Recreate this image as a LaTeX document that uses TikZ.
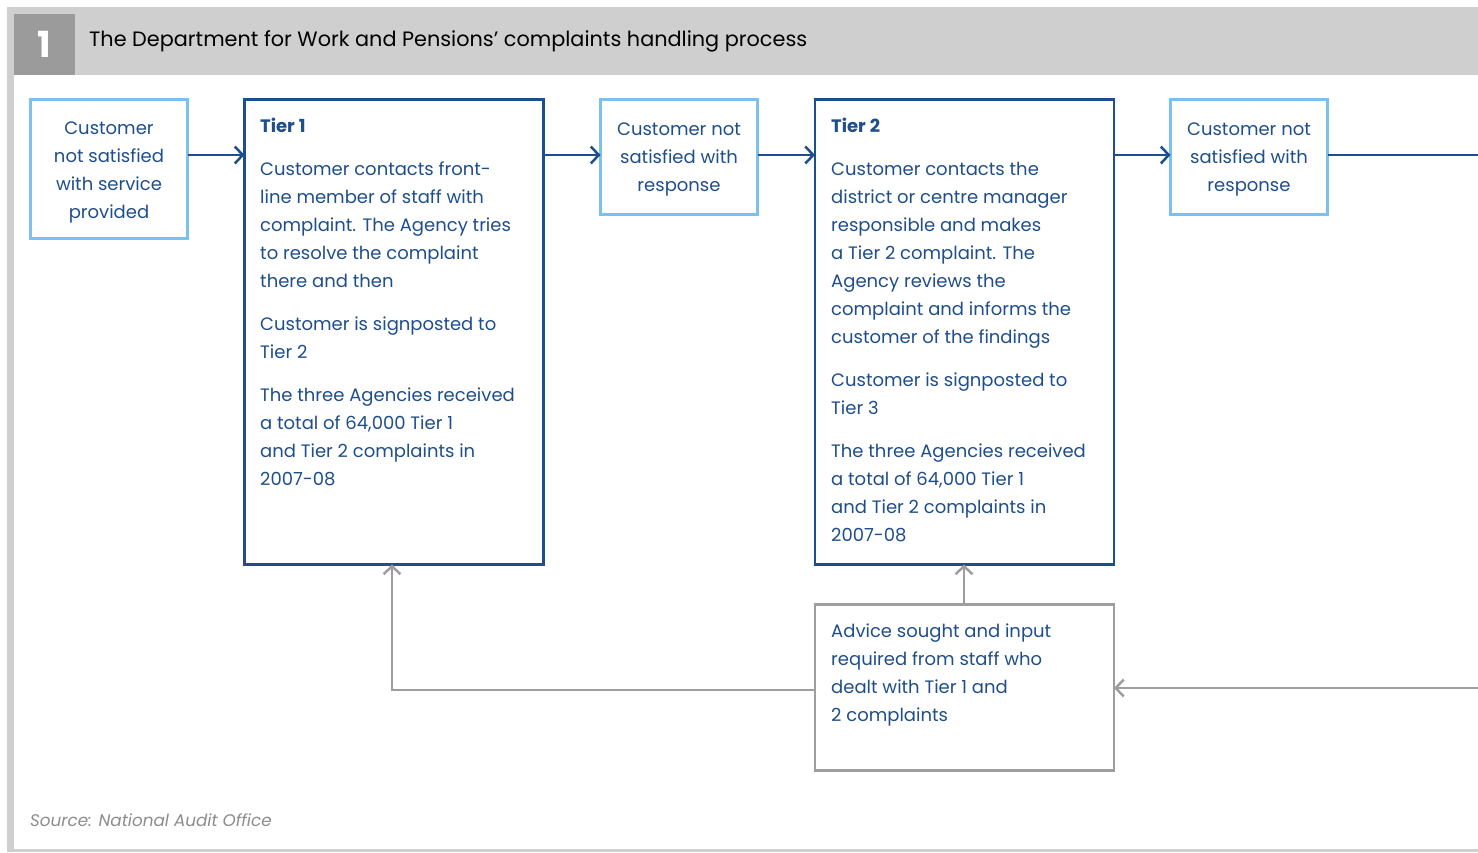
\documentclass[tikz,border=0pt]{standalone}
\usepackage{fontspec}
\setmainfont{Poppins}
\usetikzlibrary{arrows.meta,positioning}
\definecolor{dblue}{HTML}{1F4E8C}
\definecolor{lblue}{HTML}{7CC0EE}
\definecolor{garr}{HTML}{9E9E9E}
\definecolor{hband}{HTML}{CFCFCF}
\definecolor{nbox}{HTML}{9B9B9B}
\definecolor{srcgray}{HTML}{8C8C8C}
\tikzset{
  lightbox/.style={draw=lblue, line width=2.5pt, fill=white, rectangle, inner sep=0pt, outer sep=0pt},
  tierbox/.style={draw=dblue, line width=2.5pt, fill=white, rectangle, inner sep=0pt, outer sep=0pt},
  graybox/.style={draw=garr, line width=2.5pt, fill=white, rectangle, inner sep=0pt, outer sep=0pt},
  ctext/.style={text=dblue, font=\fontsize{18}{28}\selectfont, align=center, inner sep=0pt},
  ltext/.style={text=dblue, font=\fontsize{18}{28}\selectfont, align=left, inner sep=0pt, anchor=north west},
  barrow/.style={draw=dblue, line width=2.5pt, -{Straight Barb[length=8pt,width=17pt]}},
  bline/.style={draw=dblue, line width=2.5pt},
  garrow/.style={draw=garr, line width=2.5pt, -{Straight Barb[length=8pt,width=17pt]}},
}
\begin{document}
\begin{tikzpicture}[x=1pt,y=-1pt]
\useasboundingbox (0,0) rectangle (1478,852);
% frame
\fill[hband] (7,7) rectangle (1478,75);
\fill[hband] (7,75) rectangle (14,852);
\fill[hband] (14,849) rectangle (1478,852);
\node[fill=nbox, minimum width=61pt, minimum height=61pt, inner sep=0pt, anchor=north west] (num) at (14,14) {};
\node[text=white, font=\fontsize{36}{36}\selectfont\bfseries] (numtxt) at (num.center) {1};
\node[anchor=west, font=\fontsize{20.8}{24}\selectfont, text=black, inner sep=0pt] (title) at (89,41) {The Department for Work and Pensions’ complaints handling process};

% boxes
\node[lightbox, minimum width=157pt, minimum height=139pt, anchor=north west] (a) at (30.5,99.5) {};
\node[ctext] (atxt) at ([yshift=-3pt]a.center) {Customer\\not satisfied\\with service\\provided};

\node[tierbox, minimum width=299pt, minimum height=465pt, anchor=north west] (t1) at (244.5,99.5) {};
\node[ltext] (t1txt) at (260,118) {\textbf{Tier 1}\\[15pt]
Customer contacts front-\\line member of staff with\\complaint. The Agency tries\\to resolve the complaint\\there and then\\[15pt]
Customer is signposted to\\Tier 2\\[15pt]
The three Agencies received\\a total of 64,000 Tier 1\\and Tier 2 complaints in\\2007-08};

\node[lightbox, minimum width=157pt, minimum height=115pt, anchor=north west] (c) at (600.5,99.5) {};
\node[ctext] (ctxt) at ([yshift=-2pt]c.center) {Customer not\\satisfied with\\response};

\node[tierbox, minimum width=299pt, minimum height=465pt, anchor=north west] (t2) at (815,99.5) {};
\node[ltext] (t2txt) at (831,118) {\textbf{Tier 2}\\[15pt]
Customer contacts the\\district or centre manager\\responsible and makes\\a Tier 2 complaint. The\\Agency reviews the\\complaint and informs the\\customer of the findings\\[15pt]
Customer is signposted to\\Tier 3\\[15pt]
The three Agencies received\\a total of 64,000 Tier 1\\and Tier 2 complaints in\\2007-08};

\node[lightbox, minimum width=157pt, minimum height=115pt, anchor=north west] (e) at (1170.5,99.5) {};
\node[ctext] (etxt) at ([yshift=-2pt]e.center) {Customer not\\satisfied with\\response};

\node[graybox, minimum width=299pt, minimum height=166pt, anchor=north west] (adv) at (815,604.5) {};
\node[ltext] (advtxt) at (831,624) {Advice sought and input\\required from staff who\\dealt with Tier 1 and\\2 complaints};

\node[anchor=west, inner sep=0pt, text=srcgray, font=\fontsize{16.8}{20}\selectfont\itshape] (src) at (30,820) {Source: National Audit Office};

\coordinate (rtop) at (1478,155);
\coordinate (rbot) at (1478,688);
\coordinate (corner) at (392,690);

% connectors
\draw[barrow] (a.east |- 0,155) -- (t1.west |- 0,155);
\draw[barrow] (t1.east |- 0,155) -- (c.west |- 0,155);
\draw[barrow] (c.east |- 0,155) -- (t2.west |- 0,155);
\draw[barrow] (t2.east |- 0,155) -- (e.west |- 0,155);
\draw[bline] (e.east |- 0,155) -- (rtop);
\draw[garrow] (rbot) -- (adv.east |- rbot);
\draw[garrow] (adv.west |- corner) -- (corner) -- (t1.south -| corner);
\draw[garrow] (adv.north -| 964,0) -- (t2.south -| 964,0);
\end{tikzpicture}
\end{document}
